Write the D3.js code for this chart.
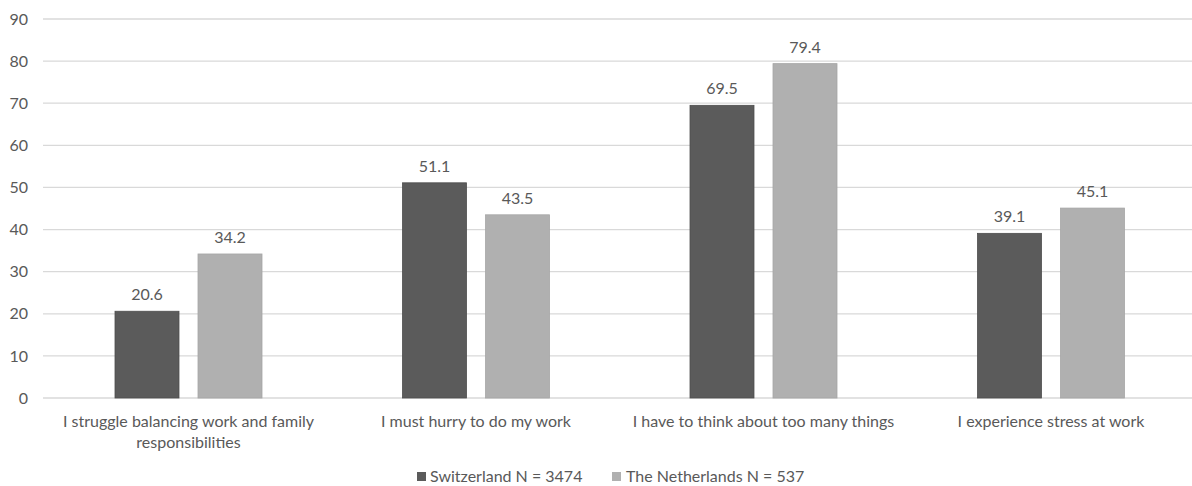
<!DOCTYPE html>
<html><head><meta charset="utf-8">
<script src="https://cdn.jsdelivr.net/npm/d3@7"></script>
<style>
html,body{margin:0;padding:0;background:#fff;}
svg{display:block;font-family:Lato,"Open Sans",sans-serif;}
</style></head>
<body>
<svg id="chart" width="1192" height="486"></svg>
<script>
const categories = [
  ["I struggle balancing work and family", "responsibilities"],
  ["I must hurry to do my work"],
  ["I have to think about too many things"],
  ["I experience stress at work"]
];
const seriesNames = ["Switzerland N = 3474", "The Netherlands N = 537"];
const switzerland = [20.6, 51.1, 69.5, 39.1];
const netherlands = [34.2, 43.5, 79.4, 45.1];
const yTicks = [0, 10, 20, 30, 40, 50, 60, 70, 80, 90];
const colors = ["#5b5b5b", "#b0b0b0"];

(function () {
const svg = d3.select("#chart");
const mLeft = 44.75, mRight = 1194.75, mTop = 19, mBottom = 398;
const textColor = "#595959";
const fs = "16px";

const y = d3.scaleLinear().domain([0, 90]).range([mBottom, mTop]);
const x0 = d3.scaleBand().domain(d3.range(categories.length)).range([mLeft, mRight]).padding(0);
const x1 = d3.scaleBand().domain([0, 1]).range([-73.5, 73.5]).paddingInner(0.229);

const yAxis = d3.axisLeft(y).tickValues(yTicks).tickSize(0).tickPadding(0);
const gAxis = svg.append("g").attr("transform", `translate(28,0)`).call(yAxis);
gAxis.select(".domain").remove();
gAxis.selectAll("text").attr("fill", textColor).style("font-size", fs).style("font-family", "Lato, sans-serif");

svg.append("g").selectAll("line").data(yTicks).join("line")
  .attr("x1", 43).attr("x2", 1192)
  .attr("y1", d => y(d)).attr("y2", d => y(d))
  .attr("stroke", "#d9d9d9").attr("stroke-width", d => d === 0 ? 1.5 : 1.3);

const series = [switzerland, netherlands];
const g = svg.append("g");
series.forEach((vals, si) => {
  vals.forEach((v, ci) => {
    const cx = x0(ci) + x0.bandwidth() / 2;
    const bx = cx + x1(si);
    g.append("rect")
      .attr("x", bx).attr("y", y(v))
      .attr("width", x1.bandwidth()).attr("height", y(0) - y(v))
      .attr("fill", colors[si])
      .attr("stroke", si === 0 ? "#4e4e4e" : "#a6a6a6").attr("stroke-width", 0.8);
    g.append("text")
      .attr("x", bx + x1.bandwidth() / 2).attr("y", y(v) - 11)
      .attr("text-anchor", "middle").attr("fill", textColor)
      .style("font-size", fs).text(v.toFixed(1));
  });
});

categories.forEach((lines, ci) => {
  const cx = x0(ci) + x0.bandwidth() / 2;
  const t = svg.append("text").attr("text-anchor", "middle").attr("fill", textColor)
    .style("font-size", fs);
  lines.forEach((ln, i) => {
    t.append("tspan").attr("x", cx).attr("y", 427 + i * 21).text(ln);
  });
});

const legendItems = [{x: 417, tx: 430}, {x: 612, tx: 626}];
seriesNames.forEach((name, i) => {
  svg.append("rect").attr("x", legendItems[i].x).attr("y", 472).attr("width", 9).attr("height", 9)
    .attr("fill", colors[i]);
  svg.append("text").attr("x", legendItems[i].tx).attr("y", 482).attr("fill", textColor)
    .style("font-size", fs).text(name);
});
})();
</script>
</body></html>
